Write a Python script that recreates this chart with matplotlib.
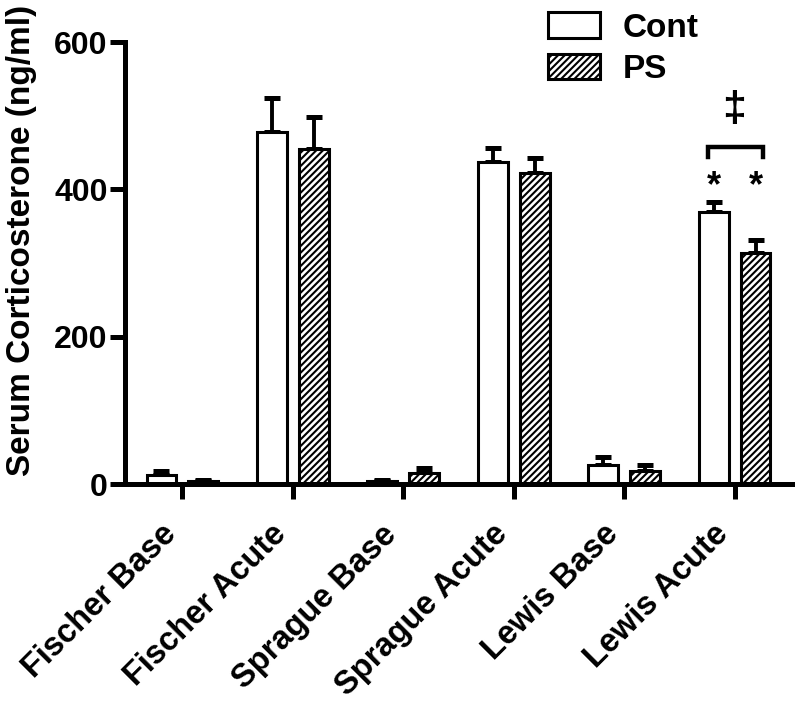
import numpy as np
import matplotlib
matplotlib.use("Agg")
import matplotlib.pyplot as plt

plt.rcParams['font.family'] = ['Liberation Sans', 'DejaVu Sans']
plt.rcParams['font.weight'] = 'bold'
plt.rcParams['hatch.linewidth'] = 1.5

# data
groups = ['Fischer Base', 'Fischer Acute', 'Sprague Base',
          'Sprague Acute', 'Lewis Base', 'Lewis Acute']
cont = [12, 478, 4, 437, 26, 369]
cont_err = [6, 46, 2, 19, 11, 14]
ps = [4, 455, 15, 422, 18, 314]
ps_err = [2, 43, 7, 20, 8, 17]
yticks = [0, 200, 400, 600]

fig = plt.figure(figsize=(7.98, 7.02), dpi=100)
ax = fig.add_axes([125/798, 1-484/702, (792-125)/798, (484-42)/702])

x = np.arange(len(groups))
w = 0.27
off = 0.19
lw = 2.2

ax.bar(x - off, cont, w, color='white', edgecolor='black', linewidth=lw,
       label='Cont', zorder=2)
ax.bar(x + off, ps, w, color='white', edgecolor='black', linewidth=lw,
       hatch='/////', label='PS', zorder=2)
zero = np.zeros(len(groups))
ax.errorbar(x - off, cont, yerr=[zero, cont_err], fmt='none', ecolor='black',
            elinewidth=2.8, capsize=6, capthick=3.6, zorder=1)
ax.errorbar(x + off, ps, yerr=[zero, ps_err], fmt='none', ecolor='black',
            elinewidth=2.8, capsize=6, capthick=3.6, zorder=1)

# significance marks on Lewis Acute
i = 5
for xx in (x[i] - off, x[i] + off):
    ax.text(xx, 403, '*', ha='center', va='center', fontsize=26,
            fontweight='bold')
bx0, bx1 = x[i] - off - 0.05, x[i] + off + 0.07
ax.plot([bx0, bx0, bx1, bx1], [444, 457, 457, 444], color='black', lw=3.2,
        solid_joinstyle='miter', clip_on=False)
ax.text(x[i], 508, '\u2021', ha='center', va='center', fontsize=31,
        fontweight='bold', clip_on=False)

ax.set_xlim(-0.52, len(groups) - 1 + 0.52)
ax.set_ylim(0, 600)
ax.set_yticks(yticks)
ax.set_xticks(x)
ax.set_xticklabels(groups, rotation=45, ha='right', fontsize=23.5,
                   fontweight='bold')
ax.tick_params(axis='y', labelsize=23, length=11, width=3.6, pad=1.5)
ax.tick_params(axis='x', length=11, width=3.6, pad=14)
for s in ('top', 'right'):
    ax.spines[s].set_visible(False)
for s in ('left', 'bottom'):
    ax.spines[s].set_linewidth(3.6)

fig.text(22/798, 1-240/702, 'Serum Corticosterone (ng/ml)', rotation=90,
         ha='center', va='center', fontsize=24, fontweight='bold')

ax.legend(loc='upper left', bbox_to_anchor=(548/798, 1-12/702),
          bbox_transform=fig.transFigure, frameon=False, fontsize=24,
          handlelength=1.55, handleheight=0.82, handletextpad=0.7,
          labelspacing=0.3, borderpad=0, borderaxespad=0)

fig.savefig('out.png', dpi=100)
